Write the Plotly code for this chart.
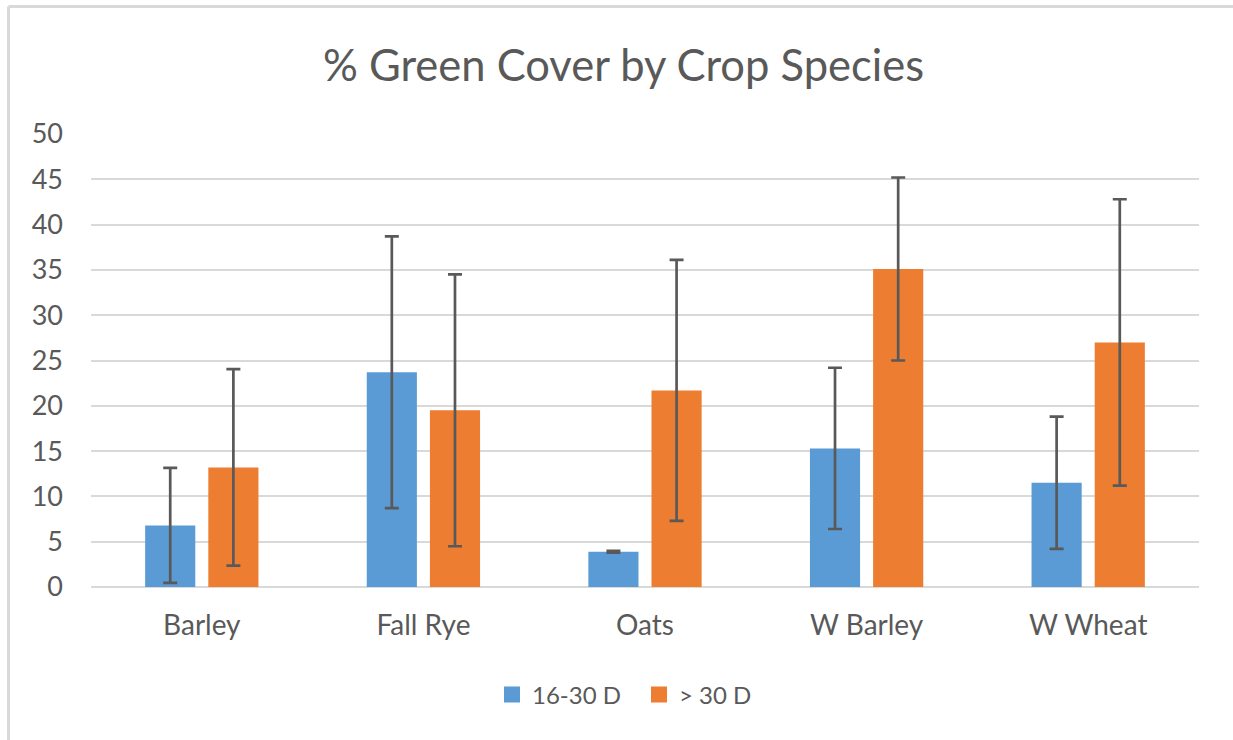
import plotly.graph_objects as go

categories = ["Barley", "Fall Rye", "Oats", "W Barley", "W Wheat"]
series_names = ["16-30 D", "> 30 D"]
vals_short = [6.8, 23.7, 3.9, 15.3, 11.5]
err_short = [6.35, 15.0, 0.1, 8.9, 7.3]
vals_long = [13.2, 19.5, 21.7, 35.1, 27.0]
err_long = [10.85, 15.0, 14.4, 10.1, 15.8]
y_ticks = [0, 5, 10, 15, 20, 25, 30, 35, 40, 45, 50]

BLUE = "#5B9BD5"
ORANGE = "#ED7D31"
ERR = "#595959"
GRID = "#D9D9D9"
TXT = "#595959"
FONT = "Lato"

W, H = 1233, 740
ML, MR, MT, MB = 91, 34, 134, 153

fig = go.Figure()
for name, v, e, c in [(series_names[0], vals_short, err_short, BLUE),
                      (series_names[1], vals_long, err_long, ORANGE)]:
    fig.add_trace(go.Bar(
        x=categories, y=v, name=name, marker=dict(color=c, line=dict(width=0)),
        error_y=dict(type="data", array=e, visible=True, color=ERR, thickness=2.7, width=7),
        showlegend=False,
    ))
    fig.add_trace(go.Scatter(
        x=[None], y=[None], mode="markers", name=name,
        marker=dict(symbol="square", size=16, color=c),
        showlegend=True,
    ))

pw = W - ML - MR
ph = H - MT - MB

def px_x(p):
    return (p - ML) / pw

def px_y(p):
    return (H - MB - p) / ph

# chart-area border (top and left edges visible in the crop)
fig.add_shape(type="line", xref="paper", yref="paper",
              x0=px_x(8.5), x1=px_x(W + 5), y0=px_y(6.5), y1=px_y(6.5),
              line=dict(color=GRID, width=3))
fig.add_shape(type="line", xref="paper", yref="paper",
              x0=px_x(8.5), x1=px_x(8.5), y0=px_y(6.5), y1=px_y(H + 5),
              line=dict(color=GRID, width=3))

fig.update_layout(
    width=W, height=H,
    margin=dict(l=ML, r=MR, t=MT, b=MB),
    paper_bgcolor="white", plot_bgcolor="white",
    barmode="group", bargap=0.43, bargroupgap=0.206,
    title=dict(text="% Green Cover by Crop Species", x=623.5 / W, xanchor="center",
               xref="container", y=1 - 66 / H, yanchor="middle", yref="container",
               font=dict(family=FONT, size=43.5, color=TXT)),
    font=dict(family=FONT, color=TXT),
    xaxis=dict(showgrid=False, showline=False, zeroline=False, ticks="",
               tickfont=dict(family=FONT, size=28, color=TXT),
               ticklabelstandoff=19),
    yaxis=dict(range=[0, 50], tickvals=y_ticks, showgrid=True, gridcolor=GRID,
               gridwidth=2, zeroline=True, zerolinecolor=GRID, zerolinewidth=2,
               showline=False, ticks="",
               tickfont=dict(family=FONT, size=27, color=TXT),
               ticklabelstandoff=27),
    legend=dict(orientation="h", xref="container", x=639 / W, xanchor="center",
                yref="container", y=1 - 695 / H, yanchor="middle",
                font=dict(family=FONT, size=24, color=TXT),
                itemwidth=30, entrywidth=102, tracegroupgap=0,
                bgcolor="rgba(0,0,0,0)"),
)

fig.write_html("out.html", config={"displayModeBar": False},
               post_script="document.body.style.margin='0';")
